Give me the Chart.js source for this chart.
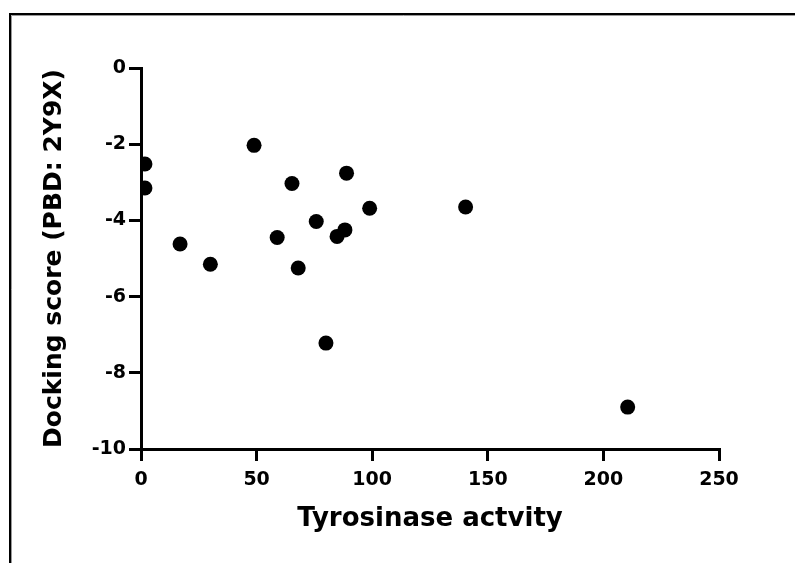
<!DOCTYPE html>
<html>
<head>
<meta charset="utf-8">
<script src="https://cdn.jsdelivr.net/npm/chart.js@4/dist/chart.umd.min.js"></script>
<style>
  html, body { margin: 0; padding: 0; background: #fff; }
  #wrap { width: 795px; height: 563px; position: relative; }
</style>
</head>
<body>
<div id="wrap"><canvas id="c" width="795" height="563"></canvas></div>
<script>
// Data
const tyrosinaseActivity = [1.7, 1.7, 16.9, 30.0, 48.9, 58.9, 65.3, 68.0, 75.8, 80.0, 84.8, 88.2, 88.9, 98.9, 140.4, 210.5];
const dockingScore      = [-2.52, -3.15, -4.62, -5.15, -2.03, -4.45, -3.03, -5.25, -4.03, -7.22, -4.42, -4.25, -2.76, -3.68, -3.65, -8.9];
const xTickRange = { min: 0, max: 250, step: 50 };
const yTickRange = { min: -10, max: 0, step: 2 };
const xTitle = 'Tyrosinase actvity';
const yTitle = 'Docking score (PBD: 2Y9X)';

const points = tyrosinaseActivity.map((x, i) => ({ x: x, y: dockingScore[i] }));
const FONT = '"DejaVu Sans", "Liberation Sans", Arial, sans-serif';

const framePlugin = {
  id: 'frame',
  beforeDraw(chart) {
    const ctx = chart.ctx;
    ctx.save();
    ctx.fillStyle = '#fff';
    ctx.fillRect(0, 0, chart.width, chart.height);
    ctx.strokeStyle = '#000';
    ctx.lineWidth = 2;
    ctx.beginPath();
    ctx.moveTo(10, chart.height);
    ctx.lineTo(10, 14);
    ctx.lineTo(chart.width, 14);
    ctx.stroke();
    ctx.strokeStyle = '#999';
    ctx.lineWidth = 1;
    ctx.beginPath();
    ctx.moveTo(11.5, chart.height);
    ctx.lineTo(11.5, 15.5);
    ctx.lineTo(chart.width, 15.5);
    ctx.stroke();
    ctx.restore();
  }
};

new Chart(document.getElementById('c'), {
  type: 'scatter',
  data: {
    datasets: [{
      data: points,
      backgroundColor: '#000',
      borderColor: '#000',
      borderWidth: 0,
      pointRadius: 7.5,
      pointHoverRadius: 7.5
    }]
  },
  options: {
    responsive: false,
    animation: false,
    events: [],
    layout: { padding: { left: 0, top: 68, right: 76, bottom: 0 } },
    plugins: { legend: { display: false }, tooltip: { enabled: false } },
    scales: {
      x: {
        type: 'linear',
        min: xTickRange.min, max: xTickRange.max,
        ticks: { stepSize: xTickRange.step, color: '#000', padding: 8, font: { family: FONT, size: 19, weight: 'bold' }, maxRotation: 0 },
        grid: { drawOnChartArea: false, drawTicks: true, tickLength: 12, color: '#000', lineWidth: 3 },
        border: { display: true, color: '#000', width: 3 },
        title: { display: true, text: xTitle, color: '#000', font: { family: FONT, size: 26, weight: 'bold' }, padding: { top: 0, bottom: 28 } },
        afterFit(scale) { scale.height = 563 - 449; }
      },
      y: {
        type: 'linear',
        min: yTickRange.min, max: yTickRange.max,
        ticks: { stepSize: yTickRange.step, color: '#000', padding: 3, font: { family: FONT, size: 19, weight: 'bold' } },
        grid: { drawOnChartArea: false, drawTicks: true, tickLength: 12, color: '#000', lineWidth: 3 },
        border: { display: true, color: '#000', width: 3 },
        title: { display: true, text: yTitle, color: '#000', font: { family: FONT, size: 25, weight: 'bold' }, padding: { top: 39, bottom: 0 } },
        afterFit(scale) { scale.width = 141; }
      }
    }
  },
  plugins: [framePlugin]
});
</script>
</body>
</html>
